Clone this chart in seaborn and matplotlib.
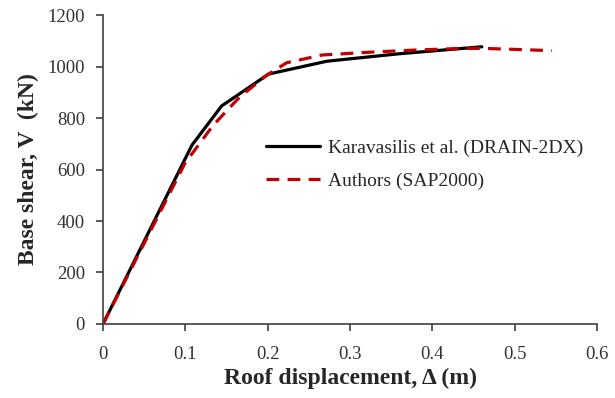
import pandas as pd
import numpy as np
import matplotlib.pyplot as plt
import seaborn as sns

# pushover curves
karav_disp = [0.0, 0.108, 0.144, 0.201, 0.272, 0.36, 0.46]
karav_shear = [0, 695, 847, 971, 1021, 1050, 1077]

sap_disp = [0.0, 0.02, 0.0996, 0.134, 0.166, 0.199, 0.223, 0.266, 0.324, 0.377, 0.43, 0.46, 0.545]
sap_shear = [0, 125, 625, 773, 882, 967, 1015, 1045, 1056, 1064, 1070, 1071, 1062]

lab_k = 'Karavasilis et al. (DRAIN-2DX)'
lab_s = 'Authors (SAP2000)'

df = pd.concat([
    pd.DataFrame({'disp': karav_disp, 'V': karav_shear, 'model': lab_k}),
    pd.DataFrame({'disp': sap_disp, 'V': sap_shear, 'model': lab_s}),
])

sns.set_style('ticks')
plt.rcParams['font.family'] = ['Liberation Serif', 'DejaVu Serif']

fig = plt.figure(figsize=(6.15, 3.98), dpi=100)
ax = fig.add_axes([0.1675, 0.186, 0.8035, 0.776])

sns.lineplot(data=df, x='disp', y='V', hue='model', style='model',
             palette={lab_k: 'black', lab_s: '#c00000'},
             dashes={lab_k: '', lab_s: (4, 2.6)},
             sort=False, estimator=None, linewidth=2.3, ax=ax)

ax.set_xlim(0, 0.6)
ax.set_ylim(0, 1200)
ax.set_xticks(np.arange(0, 0.61, 0.1))
ax.set_xticklabels(['0', '0.1', '0.2', '0.3', '0.4', '0.5', '0.6'])
ax.set_yticks(range(0, 1201, 200))
ax.tick_params(labelsize=13.5, length=5, width=1.2, color='#404040', labelcolor='#333333')
ax.tick_params(axis='y', pad=8)
ax.tick_params(axis='x', pad=11)
for s in ['left', 'bottom']:
    ax.spines[s].set_linewidth(1.2)
    ax.spines[s].set_color('#404040')
sns.despine(ax=ax)

ax.set_xlabel('Roof displacement, Δ (m)', fontsize=17, fontweight='bold', labelpad=3)
ax.set_ylabel('Base shear, V  (kN)', fontsize=17, fontweight='bold', labelpad=6)

leg = ax.legend(loc='upper left', bbox_to_anchor=(0.294, 0.655), frameon=False,
                fontsize=14, handlelength=2.8, handletextpad=0.4, labelspacing=0.78)

fig.savefig('out.png', dpi=100)
